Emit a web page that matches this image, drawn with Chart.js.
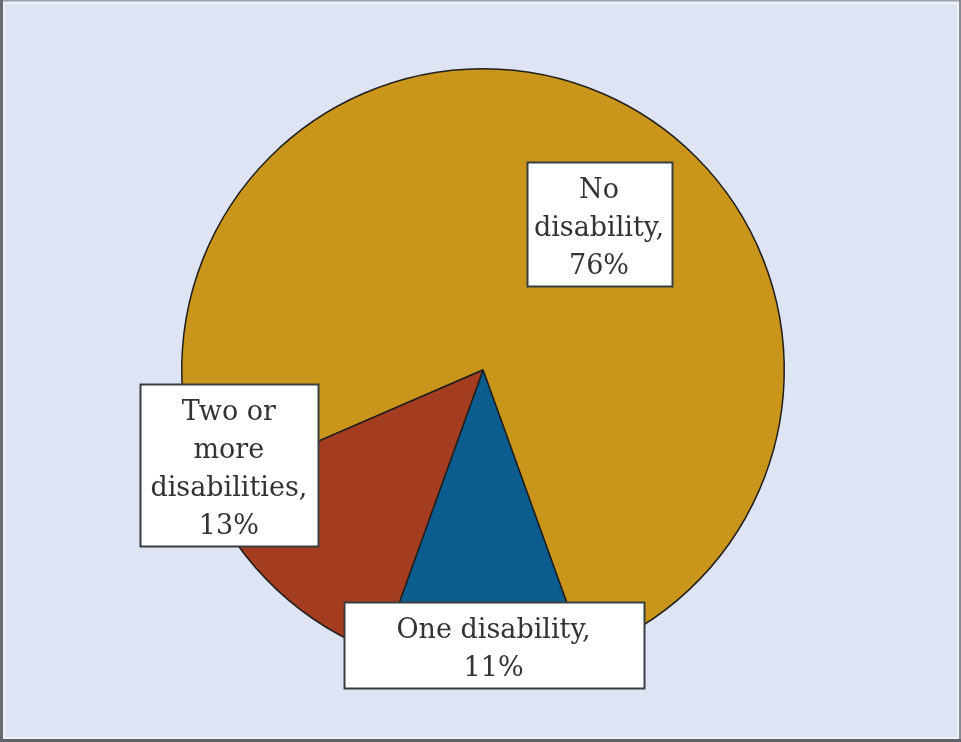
<!DOCTYPE html>
<html>
<head>
<meta charset="utf-8">
<script src="https://cdn.jsdelivr.net/npm/chart.js@4"></script>
<style>
  html, body { margin: 0; padding: 0; background: #dfe4f5; }
  #wrap { position: relative; width: 961px; height: 742px; }
</style>
</head>
<body>
<div id="wrap"><canvas id="c" width="961" height="742"></canvas></div>
<script>
// Share of people by number of disabilities
const categories = ["No disability", "One disability", "Two or more disabilities"];
const shares = [76, 11, 13];
const sliceColors = ["#c9951b", "#0b5d90", "#a43d1f"];

// Callout boxes: text lines, polar anchor (degrees clockwise from top, fraction of radius), box width
const calloutLines = [
  ["No", "disability,", "76%"],
  ["One disability,", "11%"],
  ["Two or", "more", "disabilities,", "13%"]
];
const calloutAnchors = [
  { angle: 38.4, dist: 0.62, width: 145 },
  { angle: 177.8, dist: 0.915, width: 300 },
  { angle: 249.6, dist: 0.90, width: 178 }
];

const FONT = '27px "DejaVu Serif", "Liberation Serif", serif';
const LINE_H = 38;
const BOX_PAD = 10;

const backgroundPlugin = {
  id: 'pageBackground',
  beforeDraw(chart) {
    const { ctx, width, height } = chart;
    ctx.save();
    ctx.fillStyle = '#dfe4f5';
    ctx.fillRect(0, 0, width, height);
    ctx.restore();
  },
  afterDraw(chart) {
    const { ctx, width, height } = chart;
    ctx.save();
    // inner light rule
    ctx.strokeStyle = '#eef1f7';
    ctx.lineWidth = 2;
    ctx.strokeRect(4, 3, width - 7, height - 7);
    // frame edges
    ctx.fillStyle = '#9ca1a8';
    ctx.fillRect(0, 0, width, 1.5);
    ctx.fillStyle = '#868b91';
    ctx.fillRect(width - 2, 0, 2, height);
    ctx.fillStyle = '#666b70';
    ctx.fillRect(0, 0, 3, height);
    ctx.fillStyle = '#5d6267';
    ctx.fillRect(0, height - 3, width, 3);
    ctx.restore();
  }
};

const calloutPlugin = {
  id: 'callouts',
  afterDatasetsDraw(chart) {
    const { ctx } = chart;
    const meta = chart.getDatasetMeta(0);
    const arc0 = meta.data[0];
    const cx = arc0.x, cy = arc0.y, r = arc0.outerRadius;
    ctx.save();
    ctx.font = FONT;
    ctx.textAlign = 'center';
    ctx.textBaseline = 'middle';
    calloutLines.forEach((lines, i) => {
      const a = calloutAnchors[i];
      const th = a.angle * Math.PI / 180;
      const bx = cx + Math.sin(th) * a.dist * r;
      const by = cy - Math.cos(th) * a.dist * r;
      const h = lines.length * LINE_H + BOX_PAD;
      const x0 = Math.round(bx - a.width / 2) + 0.5;
      const y0 = Math.round(by - h / 2) + 0.5;
      ctx.fillStyle = '#ffffff';
      ctx.fillRect(x0, y0, a.width, h);
      ctx.strokeStyle = '#3a3d40';
      ctx.lineWidth = 2;
      ctx.strokeRect(x0, y0, a.width, h);
      ctx.fillStyle = '#333333';
      lines.forEach((t, k) => {
        ctx.fillText(t, bx, y0 + BOX_PAD / 2 + LINE_H * (k + 0.5) + 4);
      });
    });
    ctx.restore();
  }
};

new Chart(document.getElementById('c'), {
  type: 'pie',
  data: {
    labels: categories,
    datasets: [{
      data: shares,
      backgroundColor: sliceColors,
      borderColor: '#1f1f1f',
      borderWidth: 1.5
    }]
  },
  options: {
    responsive: false,
    animation: false,
    rotation: 246.6,
    layout: { padding: { left: 181, right: 176, top: 68, bottom: 70 } },
    plugins: {
      legend: { display: false },
      tooltip: { enabled: false },
      title: { display: false }
    }
  },
  plugins: [backgroundPlugin, calloutPlugin]
});
</script>
</body>
</html>
